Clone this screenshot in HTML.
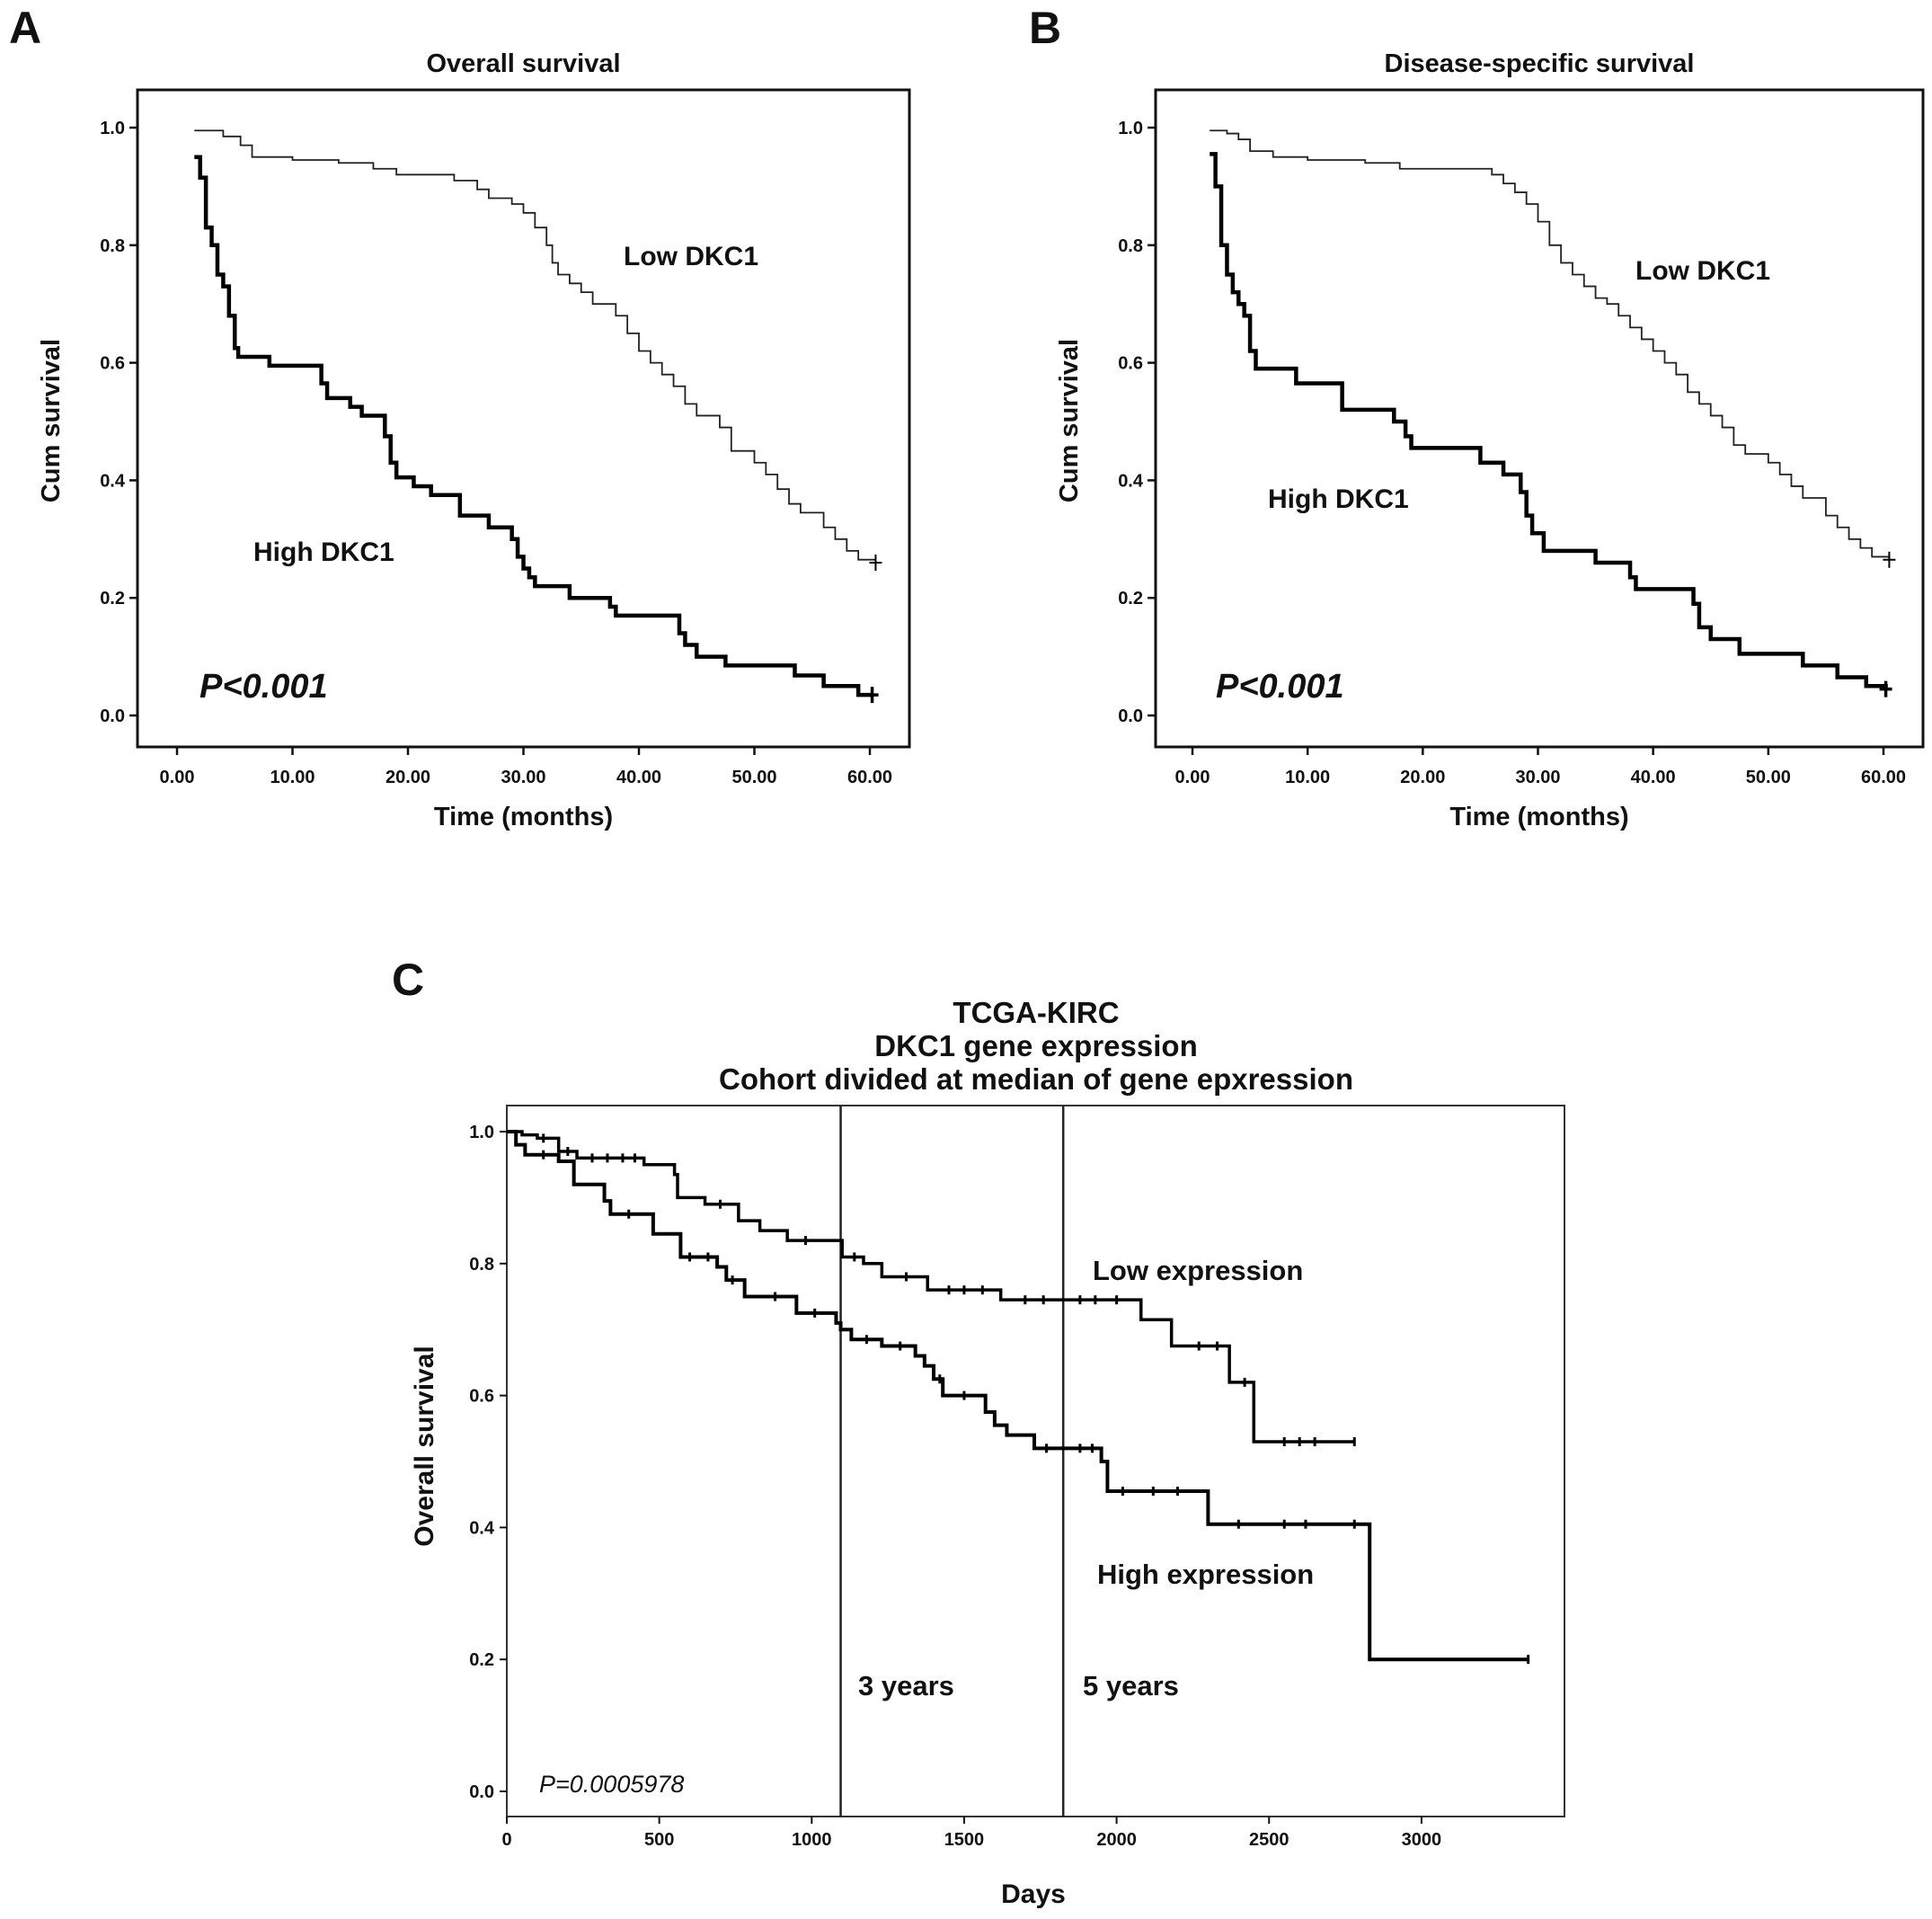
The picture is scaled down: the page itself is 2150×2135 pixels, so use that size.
<!DOCTYPE html>
<html><head><meta charset="utf-8"><style>
html,body{margin:0;padding:0;background:#fff}
svg{display:block}
text{font-family:"Liberation Sans",sans-serif;fill:#111}
</style></head><body>
<svg id="fig" width="2150" height="2135" viewBox="0 0 2150 2135" xmlns="http://www.w3.org/2000/svg"></svg>
<script>
// ---- Panel A data ----
const aLowT=[1.5,4,5.5,6.5,10,14,17,19,24,26,27,29,30,31,32,32.5,33,34,35,36,38,39,40,41,42,43,44,45,47,48,50,51,52,53,54,56,57,58,59,60.5];
const aLowS=[0.995,0.985,0.97,0.95,0.945,0.94,0.93,0.92,0.91,0.895,0.88,0.87,0.855,0.83,0.80,0.77,0.75,0.735,0.72,0.70,0.68,0.65,0.62,0.60,0.58,0.56,0.53,0.51,0.49,0.45,0.43,0.41,0.385,0.36,0.345,0.32,0.30,0.28,0.265,0.26];
const aHighT=[1.5,2,2.5,3,3.5,4,4.5,5,5.3,8,12.5,13,15,16,18,18.5,19,20.5,22,24.5,27,29,29.5,30,30.5,31,34,37.5,38,43.5,44,45,47.5,53.5,56,59,60.2];
const aHighS=[0.95,0.915,0.83,0.80,0.75,0.73,0.68,0.625,0.61,0.595,0.565,0.54,0.525,0.51,0.475,0.43,0.405,0.39,0.375,0.34,0.32,0.30,0.27,0.25,0.235,0.22,0.20,0.185,0.17,0.14,0.12,0.10,0.085,0.068,0.05,0.035,0.035];
// ---- Panel B data ----
const bLowT=[1.5,3,4,5,7,10,15,18,26,27,28,29,30,31,32,33,34,35,36,37,38,39,40,41,42,43,44,45,46,47,48,50,51,52,53,55,56,57,58,59,60.5];
const bLowS=[0.995,0.99,0.98,0.96,0.95,0.945,0.94,0.93,0.92,0.905,0.89,0.87,0.84,0.80,0.77,0.75,0.73,0.71,0.70,0.68,0.66,0.64,0.62,0.60,0.58,0.55,0.53,0.51,0.49,0.46,0.445,0.43,0.41,0.39,0.37,0.34,0.32,0.30,0.285,0.27,0.265];
const bHighT=[1.5,2,2.5,3,3.5,4,4.5,5,5.5,9,13,17.5,18.5,19,25,27,28.5,29,29.5,30.5,35,38,38.5,43.5,44,45,47.5,53,56,58.5,60.2];
const bHighS=[0.955,0.9,0.8,0.75,0.72,0.70,0.68,0.62,0.59,0.565,0.52,0.50,0.475,0.455,0.43,0.41,0.38,0.34,0.31,0.28,0.26,0.235,0.215,0.19,0.15,0.13,0.105,0.085,0.065,0.05,0.045];
// ---- Panel C data ----
const cLowT=[0,50,100,170,230,450,550,560,650,760,830,920,1100,1170,1230,1380,1620,2080,2180,2370,2450,2780];
const cLowS=[1.0,0.995,0.99,0.97,0.96,0.95,0.935,0.90,0.89,0.865,0.85,0.835,0.81,0.80,0.78,0.76,0.745,0.715,0.675,0.62,0.53,0.53];
const cHighT=[0,30,60,170,220,320,340,480,570,690,720,780,950,1080,1095,1130,1230,1340,1370,1400,1430,1570,1600,1640,1730,1950,1970,2300,2830,3350];
const cHighS=[1.0,0.98,0.965,0.955,0.92,0.895,0.875,0.845,0.81,0.795,0.775,0.75,0.725,0.71,0.70,0.685,0.675,0.66,0.645,0.625,0.60,0.575,0.555,0.54,0.52,0.50,0.455,0.405,0.20,0.20];
const cLowCens=[120,200,280,330,380,420,700,980,1140,1310,1450,1500,1560,1700,1760,1880,1930,2000,2270,2330,2420,2550,2600,2650,2780];
const cHighCens=[120,400,600,660,740,880,1010,1180,1290,1420,1500,1770,1880,1920,2020,2120,2200,2400,2550,2620,2780,3350];
const abYTicks=["0.0","0.2","0.4","0.6","0.8","1.0"];
const abXTicks=["0.00","10.00","20.00","30.00","40.00","50.00","60.00"];
const cYTicks=["0.0","0.2","0.4","0.6","0.8","1.0"];
const cXTicks=["0","500","1000","1500","2000","2500","3000"];
const cVLines=[1095,1825];

const svg=document.getElementById('fig');
const NS='http://www.w3.org/2000/svg';
function mk(tag,attrs,parent,text){const e=document.createElementNS(NS,tag);for(const k in attrs)e.setAttribute(k,attrs[k]);if(text!==undefined)e.textContent=text;(parent||svg).appendChild(e);return e;}
function stepPath(T,S,sx,sy){let d='M'+sx(T[0])+' '+sy(S[0]);for(let i=1;i<T.length;i++){d+=' H'+sx(T[i])+' V'+sy(S[i]);}return d;}
function valAt(T,S,t){let v=S[0];for(let i=0;i<T.length;i++){if(T[i]<=t)v=S[i];}return v;}

function panelAB(opt){
  const g=mk('g',{});
  
  
  const sx=v=>opt.x0+(v)/60*(opt.x60-opt.x0);
  const sy=v=>796-v*(796-142);
  const box=mk('rect',{x:opt.L,y:100,width:opt.R-opt.L,height:731,fill:'none',stroke:'#111','stroke-width':3},g);
  
  abYTicks.forEach(t=>{const y=sy(+t);mk('line',{x1:opt.L-9,x2:opt.L,y1:y,y2:y,stroke:'#111','stroke-width':2.5},g);
    const tx=mk('text',{x:opt.L-14,y:y+7,'text-anchor':'end','font-size':20,'font-weight':'bold'},g,t);
    });
  abXTicks.forEach(t=>{const x=sx(+t);mk('line',{x1:x,x2:x,y1:831,y2:840,stroke:'#111','stroke-width':2.5},g);
    const tx=mk('text',{x:x,y:871,'text-anchor':'middle','font-size':20,'font-weight':'bold'},g,t);
    });
  const lo=mk('path',{d:stepPath(opt.lowT,opt.lowS,sx,sy),fill:'none',stroke:'#222','stroke-width':1.8},g);
  
  const hi=mk('path',{d:stepPath(opt.highT,opt.highS,sx,sy),fill:'none',stroke:'#000','stroke-width':4.5},g);
  
  [[opt.lowT,opt.lowS,2],[opt.highT,opt.highS,3.5]].forEach(([T,S,w])=>{const x=sx(T[T.length-1]),y=sy(S[S.length-1]);
    const c=mk('path',{d:`M${x-7} ${y} H${x+7} M${x} ${y-9} V${y+9}`,stroke:'#000','stroke-width':w},g);
    });
  const t1=mk('text',{x:(opt.L+opt.R)/2,y:80,'text-anchor':'middle','font-size':29,'font-weight':'bold'},g,opt.title);
  
  const xl=mk('text',{x:(opt.L+opt.R)/2,y:918,'text-anchor':'middle','font-size':29,'font-weight':'bold'},g,'Time (months)');
  
  const yl=mk('text',{x:0,y:0,'text-anchor':'middle','font-size':29,'font-weight':'bold',transform:`translate(${opt.L-87},468) rotate(-90)`},g,'Cum survival');
  
  const pl=mk('text',{x:opt.lbl,y:48,'font-size':50,'font-weight':'bold'},g,opt.letter);
  
  const lw=mk('text',{x:opt.lowX,y:opt.lowY,'font-size':30,'font-weight':'bold'},g,'Low DKC1');
  
  const hg=mk('text',{x:opt.highX,y:opt.highY,'font-size':30,'font-weight':'bold'},g,'High DKC1');
  
  const pv=mk('text',{x:opt.pX,y:776,'font-size':38,'font-weight':'bold','font-style':'italic'},g,'P<0.001');
  
}
panelAB({name:'panel-a-overall-survival',L:153,R:1012,x0:197,x60:968,lowT:aLowT,lowS:aLowS,highT:aHighT,highS:aHighS,title:'Overall survival',letter:'A',lbl:10,lowX:694,lowY:295,highX:282,highY:624,pX:222});
panelAB({name:'panel-b-disease-specific-survival',L:1286,R:2140,x0:1327,x60:2096,lowT:bLowT,lowS:bLowS,highT:bHighT,highS:bHighS,title:'Disease-specific survival',letter:'B',lbl:1145,lowX:1820,lowY:311,highX:1411,highY:565,pX:1353});

(function(){
  const g=mk('g',{});
  
  
  const L=564,R=1741,T=1230,B=2021;
  const sx=v=>564+v/1000*339.3;
  const sy=v=>1993-v*(1993-1259);
  const box=mk('rect',{x:L,y:T,width:R-L,height:B-T,fill:'none',stroke:'#333','stroke-width':2},g);
  
  cYTicks.forEach(t=>{const y=sy(+t);mk('line',{x1:L-8,x2:L,y1:y,y2:y,stroke:'#111','stroke-width':2},g);
    const tx=mk('text',{x:L-14,y:y+7,'text-anchor':'end','font-size':20,'font-weight':'bold'},g,t);
    });
  cXTicks.forEach(t=>{const x=sx(+t);mk('line',{x1:x,x2:x,y1:B,y2:B+8,stroke:'#111','stroke-width':2},g);
    const tx=mk('text',{x:x,y:B+32,'text-anchor':'middle','font-size':20,'font-weight':'bold'},g,t);
    });
  cVLines.forEach(v=>{const l=mk('line',{x1:sx(v),x2:sx(v),y1:T,y2:B,stroke:'#222','stroke-width':2.5},g);
    });
  const lo=mk('path',{d:stepPath(cLowT,cLowS,sx,sy),fill:'none',stroke:'#000','stroke-width':3.5},g);
  
  const hi=mk('path',{d:stepPath(cHighT,cHighS,sx,sy),fill:'none',stroke:'#000','stroke-width':4},g);
  
  [[cLowCens,cLowT,cLowS],[cHighCens,cHighT,cHighS]].forEach(([C,TT,S])=>C.forEach(t=>{const x=sx(t),y=sy(valAt(TT,S,t));
    const c=mk('path',{d:`M${x} ${y-5} V${y+5}`,stroke:'#000','stroke-width':3},g);
    }));
  const titles=['TCGA-KIRC','DKC1 gene expression','Cohort divided at median of gene epxression'];
  const ty=[1138,1175,1212];
  titles.forEach((s,i)=>{const t=mk('text',{x:1153,y:ty[i],'text-anchor':'middle','font-size':33,'font-weight':'bold'},g,s);
    });
  const pl=mk('text',{x:436,y:1107,'font-size':50,'font-weight':'bold'},g,'C');
  
  const xl=mk('text',{x:1150,y:2117,'text-anchor':'middle','font-size':30,'font-weight':'bold'},g,'Days');
  
  const yl=mk('text',{x:0,y:0,'text-anchor':'middle','font-size':30,'font-weight':'bold',transform:'translate(482,1609) rotate(-90)'},g,'Overall survival');
  
  const labs=[['Low expression',1216,1424,'low-expression-label'],['High expression',1221,1762,'high-expression-label'],['3 years',955,1886,'three-years-label'],['5 years',1205,1886,'five-years-label']];
  labs.forEach(([s,x,y,n])=>{const t=mk('text',{x:x,y:y,'font-size':31,'font-weight':'bold'},g,s);
    });
  const pv=mk('text',{x:600,y:1994,'font-size':27,'font-style':'italic'},g,'P=0.0005978');
  
})();
</script>
</body></html>
